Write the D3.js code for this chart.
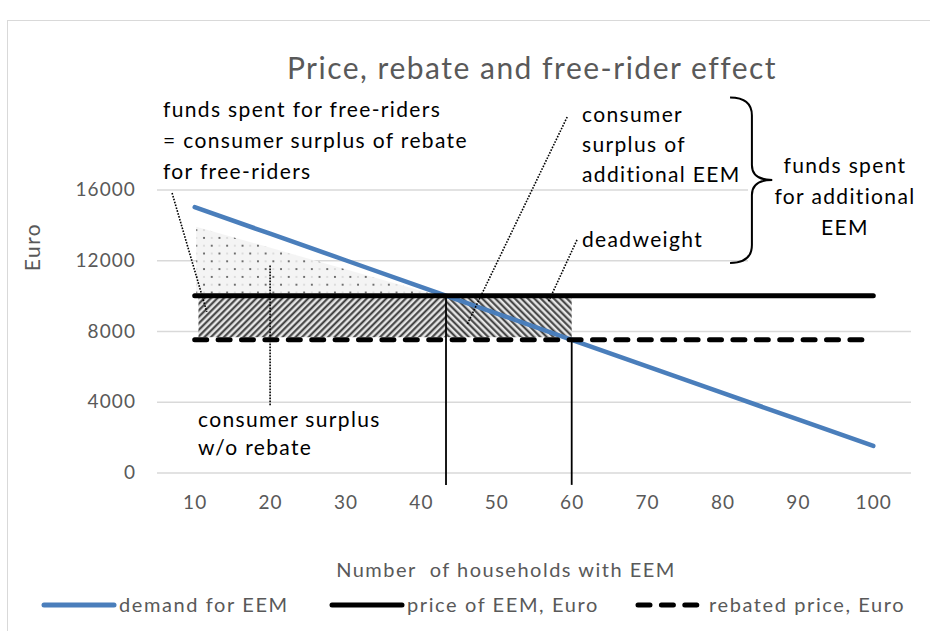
<!DOCTYPE html>
<html lang="en">
<head>
<meta charset="UTF-8">
<title>Price, rebate and free-rider effect</title>
<script src="https://d3js.org/d3.v7.min.js"></script>
<style>
    body { margin: 0; background: #fff; }
    text { font-family: Lato, "Open Sans", sans-serif; }
    .grey { fill: #595959; }
    .note { fill: #000; font-size: 21px; letter-spacing: 1.35px; }
</style>
</head>
<body>
<svg width="930" height="631" id="svg1"></svg>
<script>
    // chart data
    var categories = [10, 20, 30, 40, 50, 60, 70, 80, 90, 100];
    var demand = [15000, 13500, 12000, 10500, 9000, 7500, 6000, 4500, 3000, 1500];
    var price = [10000, 10000, 10000, 10000, 10000, 10000, 10000, 10000, 10000, 10000];
    var rebated = [7500, 7500, 7500, 7500, 7500, 7500, 7500, 7500, 7500, 7500];
    var yTicks = [0, 4000, 8000, 12000, 16000];

    // where demand meets price and rebated price
    var dropX = [43.33, 60];
    var dropTop = [10000, 7500];
    var dropBottom = -700;

    // shaded areas (x range, value range)
    var hatchLeft = [10.5, 43.33];
    var hatchRight = [43.33, 60];
    var hatchValues = [7650, 10000];
    var stippleX = [10.2, 10.2, 42.3];
    var stippleY = [13900, 10000, 10000];

    var seriesNames = ["demand for EEM", "price of EEM, Euro", "rebated price, Euro"];

    var svg = d3.select("#svg1"),
        plotLeft = 157, plotRight = 911, plotTop = 189.5, plotBottom = 472.5;

    var xBand = d3.scalePoint().domain(categories).range([plotLeft, plotRight]).padding(0.5);
    var x = d3.scaleLinear().domain([10, 100]).range([xBand(10), xBand(100)]);
    var y = d3.scaleLinear().domain([0, 16000]).range([plotBottom, plotTop]);

    // outer border
    svg.append("rect")
        .attr("x", 7.5).attr("y", 20.5).attr("width", 940).attr("height", 640)
        .attr("fill", "#fff").attr("stroke", "#d9d9d9");

    // patterns
    var defs = svg.append("defs");
    function hatch(id, angle) {
        var p = defs.append("pattern").attr("id", id)
            .attr("patternUnits", "userSpaceOnUse")
            .attr("width", 4.6).attr("height", 10)
            .attr("patternTransform", "rotate(" + angle + ")");
        p.append("rect").attr("width", 4.6).attr("height", 10).attr("fill", "#e6e6e6");
        p.append("line").attr("x1", 1.2).attr("x2", 1.2).attr("y1", 0).attr("y2", 10)
            .attr("stroke", "#3a3a3a").attr("stroke-width", 2);
    }
    hatch("fwd", 45);
    hatch("back", -45);

    var dots = defs.append("pattern").attr("id", "dots")
        .attr("patternUnits", "userSpaceOnUse")
        .attr("width", 15.4).attr("height", 15.6);
    dots.append("rect").attr("width", 15.4).attr("height", 15.6).attr("fill", "#f4f4f4");
    [[0, 0], [7.7, 7.8]].forEach(function (d) {
        dots.append("circle").attr("cx", d[0] + 3.85).attr("cy", d[1] + 3.9).attr("r", 1.05).attr("fill", "#4d4d4d");
    });
    [[7.7, 0], [0, 7.8]].forEach(function (d) {
        dots.append("circle").attr("cx", d[0] + 3.85).attr("cy", d[1] + 3.9).attr("r", 1).attr("fill", "#d4d4d4");
    });

    // gridlines + y labels
    var gy = svg.append("g").attr("transform", "translate(" + plotLeft + ",0)")
        .call(d3.axisLeft(y).tickValues(yTicks).tickFormat(d3.format("d"))
            .tickSize(-(plotRight - plotLeft)).tickPadding(21));
    gy.select(".domain").remove();
    gy.selectAll(".tick line").attr("stroke", "#d9d9d9").attr("stroke-width", 1.4);
    gy.selectAll(".tick text").attr("class", "grey").attr("font-size", 19)
        .style("font-family", "Lato").attr("letter-spacing", 1.1);

    // x labels
    var gx = svg.append("g").attr("transform", "translate(0," + plotBottom + ")")
        .call(d3.axisBottom(xBand).tickSize(0).tickPadding(23));
    gx.select(".domain").remove();
    gx.selectAll(".tick text").attr("class", "grey").attr("font-size", 19)
        .style("font-family", "Lato").attr("letter-spacing", 1.1);

    // white box behind the brace label hides the gridlines there
    svg.append("rect")
        .attr("x", 748).attr("y", y(16000) - 3).attr("width", plotRight - 748 + 1)
        .attr("height", y(12000) - y(16000) + 6).attr("fill", "#fff");

    // shaded areas
    function box(xs, fill) {
        svg.append("rect")
            .attr("x", x(xs[0])).attr("y", y(hatchValues[1]))
            .attr("width", x(xs[1]) - x(xs[0]))
            .attr("height", y(hatchValues[0]) - y(hatchValues[1]))
            .attr("fill", fill);
    }
    box(hatchLeft, "url(#fwd)");
    box(hatchRight, "url(#back)");

    svg.append("path")
        .datum(stippleX.map(function (d, i) { return [d, stippleY[i]]; }))
        .attr("d", d3.line().x(function (d) { return x(d[0]); }).y(function (d) { return y(d[1]); }))
        .attr("fill", "url(#dots)");

    // series lines
    var line = d3.line()
        .x(function (d, i) { return xBand(categories[i]); })
        .y(function (d) { return y(d); });

    svg.append("path").datum(demand).attr("d", line)
        .attr("fill", "none").attr("stroke", "#4a7ebb").attr("stroke-width", 4.5)
        .attr("stroke-linecap", "round");
    svg.append("path").datum(price).attr("d", line)
        .attr("fill", "none").attr("stroke", "#000").attr("stroke-width", 5)
        .attr("stroke-linecap", "round");
    svg.append("path").datum(rebated).attr("d", line)
        .attr("fill", "none").attr("stroke", "#000").attr("stroke-width", 5)
        .attr("stroke-linecap", "round").attr("stroke-dasharray", "12,11.4");

    // vertical drop lines
    svg.selectAll(".drop").data(dropX).enter().append("line")
        .attr("class", "drop")
        .attr("x1", function (d) { return x(d); }).attr("x2", function (d) { return x(d); })
        .attr("y1", function (d, i) { return y(dropTop[i]); })
        .attr("y2", y(dropBottom))
        .attr("stroke", "#000").attr("stroke-width", 1.8);

    // dotted leader lines [x1, v1, x2, v2]
    var leaders = [
        [7.0, 15800, 11.6, 9080],
        [20.0, 11700, 20.0, 3800],
        [59.4, 20100, 46.1, 8340],
        [60.7, 13150, 56.9, 9640]
    ];
    svg.selectAll(".leader").data(leaders).enter().append("line")
        .attr("class", "leader")
        .attr("x1", function (d) { return x(d[0]); }).attr("y1", function (d) { return y(d[1]); })
        .attr("x2", function (d) { return x(d[2]); }).attr("y2", function (d) { return y(d[3]); })
        .attr("stroke", "#000").attr("stroke-width", 1.6).attr("stroke-dasharray", "1.6,1.4");

    // curly brace
    var bxA = x(81), bxB = x(83.9), bxT = x(86.6);
    var byT = y(21200), byM = y(16540), byB = y(11850);
    svg.append("path")
        .attr("d", "M" + bxA + "," + byT + " Q" + bxB + "," + byT + " " + bxB + "," + (byT + 18) +
            " L" + bxB + "," + (byM - 15) + " Q" + bxB + "," + byM + " " + bxT + "," + byM +
            " Q" + bxB + "," + byM + " " + bxB + "," + (byM + 15) +
            " L" + bxB + "," + (byB - 18) + " Q" + bxB + "," + byB + " " + bxA + "," + byB)
        .attr("fill", "none").attr("stroke", "#000").attr("stroke-width", 2);

    // annotation texts
    function note(lines, px, py, anchor, gap) {
        var t = svg.append("text").attr("class", "note")
            .attr("x", px).attr("y", py).attr("text-anchor", anchor || "start");
        lines.forEach(function (s, i) {
            t.append("tspan").attr("x", px).attr("dy", i ? gap : 0).text(s);
        });
    }
    note(["funds spent for free-riders", "= consumer surplus of rebate", "for free-riders"], 163, 117, "start", 31);
    note(["consumer", "surplus of", "additional EEM"], 582, 122, "start", 30);
    note(["deadweight"], 582, 247);
    note(["funds spent", "for additional", "EEM"], 845, 173, "middle", 31);
    note(["consumer surplus", "w/o rebate"], 198, 427, "start", 28);

    // title and axis titles
    svg.append("text").attr("class", "grey").attr("x", 532).attr("y", 79)
        .attr("text-anchor", "middle").attr("font-size", 30).attr("letter-spacing", 1.5)
        .text("Price, rebate and free-rider effect");
    svg.append("text").attr("class", "grey").attr("x", 506).attr("y", 577)
        .attr("text-anchor", "middle").attr("font-size", 20).attr("letter-spacing", 1.5)
        .attr("xml:space", "preserve")
        .text("Number  of households with EEM");
    svg.append("text").attr("class", "grey")
        .attr("transform", "translate(40,247) rotate(-90)")
        .attr("text-anchor", "middle").attr("font-size", 21).attr("letter-spacing", 1.5)
        .text("Euro");

    // legend
    var legendX = [44, 332, 638];
    var legend = svg.selectAll(".legend").data(seriesNames).enter().append("g")
        .attr("class", "legend")
        .attr("transform", function (d, i) { return "translate(" + legendX[i] + ",605)"; });
    legend.append("line").attr("x1", 0).attr("x2", function (d, i) { return i == 2 ? 62 : 70; })
        .attr("stroke", function (d, i) { return i == 0 ? "#4a7ebb" : "#000"; })
        .attr("stroke-width", 5).attr("stroke-linecap", "round")
        .attr("stroke-dasharray", function (d, i) { return i == 2 ? "12,11.4" : null; });
    legend.append("text").attr("class", "grey")
        .attr("x", function (d, i) { return i == 2 ? 71 : 75; }).attr("y", 7)
        .attr("font-size", 20).attr("letter-spacing", 1.6)
        .text(function (d) { return d; });
</script>
</body>
</html>
